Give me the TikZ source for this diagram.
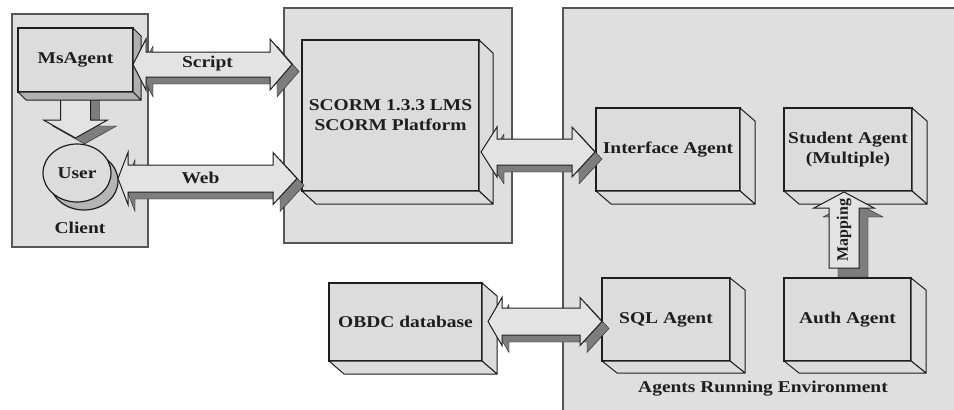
\documentclass[tikz,border=0pt]{standalone}
\usepackage{fontspec}
\setmainfont{Liberation Serif}[FakeStretch=1.18]
\newfontfamily\uprightserif{Liberation Serif}
\usetikzlibrary{calc,shapes.geometric}

\definecolor{panel}{HTML}{DFDFDF}
\definecolor{boxface}{HTML}{DCDCDC}
\definecolor{arrowface}{HTML}{E3E3E3}
\definecolor{arrowside}{HTML}{7D7D7D}
\definecolor{ink}{HTML}{1E1E1E}

\pgfdeclarelayer{back}
\pgfdeclarelayer{under}
\pgfsetlayers{back,under,main}

\newcommand\lbl{\fontsize{16.5}{20}\selectfont\bfseries}

\tikzset{
  panelbox/.style={draw=ink!75, line width=1.1pt, fill=panel, inner sep=0pt, outer sep=0pt},
  agentbox/.style={draw=ink, line width=1.2pt, fill=boxface, inner sep=0pt, outer sep=0pt,
                   align=center, font=\lbl, text=ink},
  sideface/.style={draw=ink, line width=1pt, fill=boxface, line join=round},
  darkside/.style={sideface, fill=gray!62},
  blockarrow/.style={draw=ink, line width=1pt, fill=arrowface, line join=miter,
                     preaction={draw=ink, fill=arrowside, transform canvas={shift={(#1)}}}},
  blockarrow/.default={7pt,-7pt},
  txt/.style={font=\lbl, text=ink, inner sep=0pt}
}

% right and bottom faces of an extruded box
\newcommand\depthfaces[4]{%
  \draw[#4] (#1.north east) -- ++(#2,#3) -- ($(#1.south east)+(#2,#3)$) -- (#1.south east) -- cycle;
  \draw[#4] (#1.south west) -- ++(#2,#3) -- ($(#1.south east)+(#2,#3)$) -- (#1.south east) -- cycle;}

% horizontal two-headed block arrow between two tips
% #1 left tip, #2 right tip, #3/#4 head lengths, #5 shaft half height, #6 head half height
\newcommand\twoway[6]{%
  \draw[blockarrow] (#1) -- ($(#1)+(#3,-#6)$) -- ($(#1)+(#3,-#5)$) -- ($(#2)+(-#4,-#5)$)
    -- ($(#2)+(-#4,-#6)$) -- (#2) -- ($(#2)+(-#4,#6)$) -- ($(#2)+(-#4,#5)$)
    -- ($(#1)+(#3,#5)$) -- ($(#1)+(#3,#6)$) -- cycle;}

\begin{document}
\begin{tikzpicture}[x=1pt,y=-1pt]
\useasboundingbox (0,0) rectangle (954,410);

% containers
\begin{pgfonlayer}{back}
  \node[panelbox, minimum width=136pt, minimum height=233pt] (client) at (80,130.5) {};
  \node[panelbox, minimum width=228pt, minimum height=235pt] (platform) at (398,125.5) {};
  \node[panelbox, minimum width=407pt, minimum height=417pt] (agentsenv) at (766.5,216.5) {};
\end{pgfonlayer}

% client side
\node[agentbox, minimum width=115pt, minimum height=64pt] (msagent) at (75.5,60) {MsAgent};
\depthfaces{msagent}{8}{8}{darkside}
\node[agentbox, ellipse, minimum width=68pt, minimum height=58pt,
      preaction={draw=ink, fill=gray!58, transform canvas={shift={(7pt,-8pt)}}}]
      (user) at (77,173) {User};
\node[txt] (clientlbl) at ($(client.south)+(0,-19)$) {Client};

% LMS platform
\node[agentbox, minimum width=177pt, minimum height=151pt] (scorm) at (390.5,115.5)
  {SCORM 1.3.3 LMS\\SCORM Platform};
\depthfaces{scorm}{14}{13}{sideface}

% agents
\node[agentbox, minimum width=144pt, minimum height=83pt] (iface) at (668,149.5) {Interface Agent};
\depthfaces{iface}{15}{13}{sideface}
\node[agentbox, minimum width=128pt, minimum height=83pt] (student) at (848,149.5) {Student Agent\\(Multiple)};
\depthfaces{student}{15}{13}{sideface}
\node[agentbox, minimum width=153pt, minimum height=78pt] (obdc) at (405.5,322) {OBDC database};
\depthfaces{obdc}{15}{13}{sideface}
\node[agentbox, minimum width=128pt, minimum height=83pt] (sql) at (666,319.5) {SQL Agent};
\depthfaces{sql}{15}{12}{sideface}
\node[agentbox, minimum width=127pt, minimum height=83pt] (auth) at (847.5,319.5) {Auth Agent};
\depthfaces{auth}{15}{12}{sideface}
\node[txt] (envlbl) at (763,389) {Agents Running Environment};

% MsAgent -> User
\coordinate (ma) at (msagent.south);
\coordinate (mb) at ($(ma |- user.north)+(0,-6)$);
\begin{pgfonlayer}{under}
  \draw[blockarrow={9pt,-6pt}] ($(ma)+(-15,0)$) -- ($(mb)+(-15,-18)$) -- ($(mb)+(-32,-18)$) -- (mb)
    -- ($(mb)+(32,-18)$) -- ($(mb)+(15,-18)$) -- ($(ma)+(15,0)$) -- cycle;
\end{pgfonlayer}

% MsAgent <-> SCORM
\coordinate (sa) at ($(msagent.east)+(0,4.5)$);
\coordinate (sb) at ($(sa -| scorm.west)+(-10,0)$);
\twoway{sa}{sb}{13}{22}{12.5}{25.5}
\node[txt] (scriptlbl) at ($(sa)!0.5!(sb)+(-5,-1)$) {Script};

% User <-> SCORM
\coordinate (wa) at ($(user.east)+(7,5.5)$);
\coordinate (wb) at ($(wa -| scorm.west)+(-5,0)$);
\twoway{wa}{wb}{10}{24}{13.5}{26}
\node[txt] (weblbl) at ($(wa)!0.5!(wb)+(-7,-1)$) {Web};

% SCORM <-> Interface Agent
\coordinate (ia) at ($(scorm.east |- iface.west)+(2,2.5)$);
\coordinate (ib) at ($(iface.west)+(-1,2.5)$);
\twoway{ia}{ib}{16}{23}{13}{25}

% OBDC <-> SQL Agent
\coordinate (oa) at ($(obdc.east)+(6,-0.5)$);
\coordinate (ob) at (oa -| sql.west);
\twoway{oa}{ob}{14}{22}{13.5}{24}

% Auth Agent -> Student Agent
\coordinate (pa) at ($(auth.north)+(-3.5,-10)$);
\coordinate (pb) at ($(pa |- student.south)+(0,1)$);
\draw[blockarrow={9pt,-9pt}] ($(pa)+(-15,0)$) -- ($(pb)+(-15,16)$) -- ($(pb)+(-30,16)$) -- (pb)
  -- ($(pb)+(30,16)$) -- ($(pb)+(15,16)$) -- ($(pa)+(15,0)$) -- cycle;
\node[txt, font=\uprightserif\fontsize{16}{18}\selectfont\bfseries, rotate=90] (maplbl)
  at ($(pa)!0.5!(pb)$) {Mapping};
\end{tikzpicture}
\end{document}
